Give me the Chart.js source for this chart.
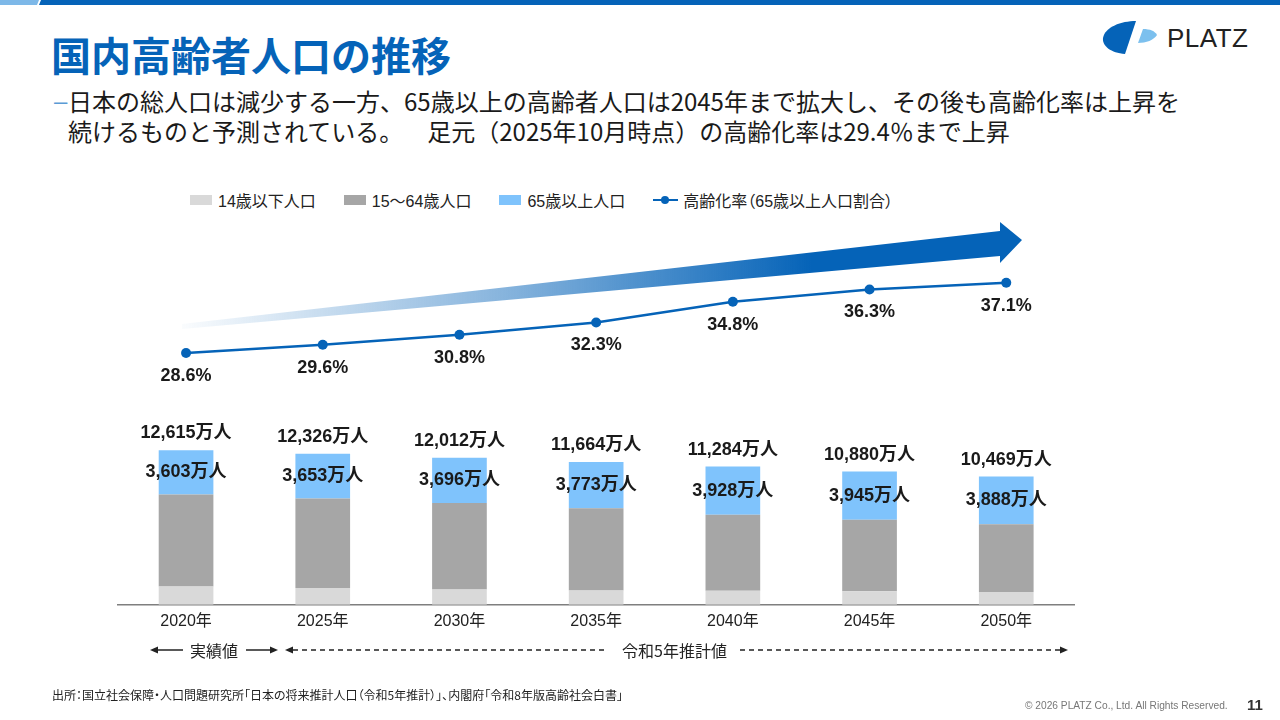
<!DOCTYPE html>
<html lang="ja">
<head>
<meta charset="utf-8">
<script src="https://cdn.jsdelivr.net/npm/chart.js@4"></script>
<style>
html,body{margin:0;padding:0;background:#fff;}
body{width:1280px;height:720px;position:relative;overflow:hidden;font-family:"Liberation Sans","Noto Sans CJK JP",sans-serif;color:#222;}
.abs{position:absolute;white-space:nowrap;}
#title{left:51px;top:32px;font-family:"Noto Sans CJK JP",sans-serif;font-weight:700;font-size:40px;line-height:44px;color:#0563b8;}
.sub{left:68px;font-family:"Noto Sans CJK JP",sans-serif;font-size:24px;line-height:30px;color:#1a1a1a;}
#dash{left:54px;top:86px;font-size:24px;line-height:30px;color:#5b9bd5;font-family:"Liberation Sans",sans-serif;}
#legend{left:190px;top:190px;height:20px;display:flex;align-items:center;font-size:16px;color:#222;font-feature-settings:"palt";}
.li{display:flex;align-items:center;margin-right:28px;}
.sw{width:22px;height:10px;margin-right:6px;}
.ln{position:relative;width:25px;height:10px;margin-right:5px;}
.ln:before{content:"";position:absolute;left:0;right:0;top:4px;height:2px;background:#0563b8;}
.ln:after{content:"";position:absolute;left:8px;top:1px;width:8px;height:8px;border-radius:50%;background:#0563b8;}
#chartWrap{position:absolute;left:0;top:210px;width:1280px;height:428px;}
#src{left:52px;top:687px;font-size:12px;line-height:16px;color:#222;font-family:"Noto Sans CJK JP",sans-serif;font-feature-settings:"palt";}
#copy{left:1025px;top:700px;font-size:10.2px;line-height:12px;color:#777;}
#page{left:1247px;top:696px;font-size:15px;font-weight:700;line-height:18px;color:#333;}
#logoText{left:1167px;top:23px;font-size:26px;line-height:30px;color:#222;letter-spacing:0.5px;}
.ann{font-size:16px;line-height:20px;color:#222;font-family:"Noto Sans CJK JP",sans-serif;}
</style>
</head>
<body>
<div class="abs" style="left:0;top:0;width:1280px;height:5px;background:#0563b8;clip-path:polygon(41px 0,1280px 0,1280px 5px,39px 5px);"></div>
<div class="abs" style="left:0;top:0;width:39px;height:5px;background:#7db8e8;clip-path:polygon(0 0,39px 0,37px 5px,0 5px);"></div>

<div id="title" class="abs">国内高齢者人口の推移</div>
<div id="dash" class="abs">–</div>
<div class="abs sub" style="top:86px;">日本の総人口は減少する一方、65歳以上の高齢者人口は2045年まで拡大し、その後も高齢化率は上昇を</div>
<div class="abs sub" style="top:116px;">続けるものと予測されている。　<span style="margin-left:12px">足元（2025年10月時点）の高齢化率は29.4％まで上昇</span></div>

<svg class="abs" style="left:0;top:0" width="1280" height="70">
  <path d="M1136,21 L1125,54 C1111,53 1102,46 1103,38 C1105,27 1121,21 1136,21 Z" fill="#0563b8"/>
  <path d="M1143,29 C1150,29 1155,31 1157,35 C1154,40 1146,43 1138,43 Z" fill="#7cc0ee"/>
</svg>
<div id="logoText" class="abs">PLATZ</div>

<div id="legend" class="abs"></div>

<div id="chartWrap"><canvas id="c"></canvas></div>

<svg class="abs" style="left:0;top:0" width="1280" height="720">
  <g stroke="#222" stroke-width="1.5" fill="#222">
    <line x1="156" y1="650" x2="183" y2="650"/>
    <polygon points="150,650 158,646.5 158,653.5" stroke="none"/>
    <line x1="246" y1="650" x2="272" y2="650"/>
    <polygon points="278,650 270,646.5 270,653.5" stroke="none"/>
    <polygon points="285,650 293,646.5 293,653.5" stroke="none"/>
    <line x1="293" y1="650" x2="608" y2="650" stroke-dasharray="5,4"/>
    <line x1="740" y1="650" x2="1060" y2="650" stroke-dasharray="5,4"/>
    <polygon points="1068,650 1060,646.5 1060,653.5" stroke="none"/>
  </g>
</svg>
<div class="abs ann" style="left:190px;top:640px;">実績値</div>
<div class="abs ann" style="left:622px;top:640px;">令和5年推計値</div>

<div id="src" class="abs">出所：国立社会保障・人口問題研究所「日本の将来推計人口（令和5年推計）」、内閣府「令和8年版高齢社会白書」</div>
<div id="copy" class="abs">© 2026 PLATZ Co., Ltd. All Rights Reserved.</div>
<div id="page" class="abs">11</div>

<script>
// ---- data ----
const years = ['2020年','2025年','2030年','2035年','2040年','2045年','2050年'];
const under14 = [1503, 1363, 1240, 1169, 1142, 1103, 1041];
const age15to64 = [7509, 7310, 7076, 6722, 6213, 5832, 5540];
const over65 = [3603, 3653, 3696, 3773, 3928, 3945, 3888];
const totals = [12615, 12326, 12012, 11664, 11284, 10880, 10469];
const agingRate = [28.6, 29.6, 30.8, 32.3, 34.8, 36.3, 37.1];
const seriesNames = ['14歳以下人口', '15～64歳人口', '65歳以上人口', '高齢化率（65歳以上人口割合）'];

const colors = ['#d9d9d9', '#a6a6a6', '#7fc3fc', '#0563b8'];
const LABEL_FONT = 'bold 18px "Liberation Sans","Noto Sans CJK JP",sans-serif';

// legend (HTML)
const lg = document.getElementById('legend');
seriesNames.forEach((n, i) => {
  const it = document.createElement('div'); it.className = 'li';
  const s = document.createElement('div');
  if (i < 3) { s.className = 'sw'; s.style.background = colors[i]; } else { s.className = 'ln'; }
  const t = document.createElement('span'); t.textContent = n;
  it.appendChild(s); it.appendChild(t); lg.appendChild(it);
});

const fmt = v => v.toLocaleString('en-US');

const arrowPlugin = {
  id: 'trendArrow',
  beforeDatasetsDraw(chart) {
    const ctx = chart.ctx; const oy = 210;
    ctx.save();
    const g = ctx.createLinearGradient(182, 0, 1022, 0);
    g.addColorStop(0, 'rgba(5,99,184,0.02)');
    g.addColorStop(0.4, 'rgba(5,99,184,0.5)');
    g.addColorStop(0.75, 'rgba(5,99,184,1)');
    g.addColorStop(1, 'rgba(5,99,184,1)');
    ctx.fillStyle = g;
    ctx.beginPath();
    ctx.moveTo(182, 324 - oy);
    ctx.lineTo(1000, 231 - oy);
    ctx.lineTo(1000, 222 - oy);
    ctx.lineTo(1022, 240 - oy);
    ctx.lineTo(1000, 263 - oy);
    ctx.lineTo(1000, 256 - oy);
    ctx.lineTo(182, 329 - oy);
    ctx.closePath();
    ctx.fill();
    ctx.restore();
  }
};

const labelPlugin = {
  id: 'valueLabels',
  afterDatasetsDraw(chart) {
    const ctx = chart.ctx;
    ctx.save();
    ctx.fillStyle = '#1a1a1a';
    ctx.textAlign = 'center';
    ctx.textBaseline = 'middle';
    ctx.font = LABEL_FONT;
    const top = chart.getDatasetMeta(2);
    top.data.forEach((bar, i) => {
      ctx.fillText(fmt(totals[i]) + '万人', bar.x, bar.y - 17);
      ctx.fillText(fmt(over65[i]) + '万人', bar.x, (bar.y + bar.base) / 2);
    });
    const lm = chart.getDatasetMeta(3);
    lm.data.forEach((pt, i) => {
      ctx.fillText(agingRate[i].toFixed(1) + '%', pt.x, pt.y + 23);
    });
    ctx.restore();
  }
};

new Chart(document.getElementById('c'), {
  data: {
    labels: years,
    datasets: [
      { type: 'bar', label: seriesNames[0], data: under14, backgroundColor: colors[0], yAxisID: 'y', stack: 's', order: 2, barPercentage: 0.4, categoryPercentage: 1 },
      { type: 'bar', label: seriesNames[1], data: age15to64, backgroundColor: colors[1], yAxisID: 'y', stack: 's', order: 2, barPercentage: 0.4, categoryPercentage: 1 },
      { type: 'bar', label: seriesNames[2], data: over65, backgroundColor: colors[2], yAxisID: 'y', stack: 's', order: 2, barPercentage: 0.4, categoryPercentage: 1 },
      { type: 'line', label: seriesNames[3], data: agingRate, borderColor: colors[3], backgroundColor: colors[3], borderWidth: 2.5, pointRadius: 5, pointHoverRadius: 5, pointBackgroundColor: colors[3], pointBorderWidth: 0, yAxisID: 'y2', order: 1, tension: 0 }
    ]
  },
  options: {
    responsive: true,
    maintainAspectRatio: false,
    animation: false,
    layout: { padding: { top: 20, left: 117.7, right: 205.4, bottom: 0 } },
    plugins: { legend: { display: false }, tooltip: { enabled: false } },
    scales: {
      x: {
        stacked: true,
        offset: true,
        grid: { display: false, drawTicks: false, tickLength: 0 },
        border: { display: true, color: '#7f7f7f', width: 1.5 },
        ticks: { color: '#222', padding: 7, font: { size: 16, family: '"Liberation Sans","Noto Sans CJK JP",sans-serif' } }
      },
      y: { display: false, stacked: true, min: 0, max: 30600 },
      y2: { display: false, min: -1.92, max: 43.5 }
    }
  },
  plugins: [arrowPlugin, labelPlugin]
});
</script>
</body>
</html>
